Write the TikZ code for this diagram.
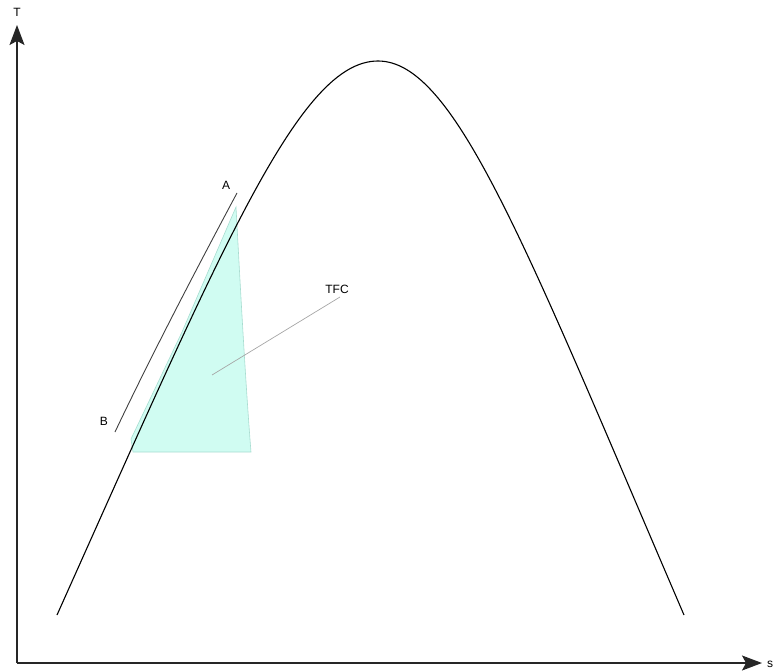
\documentclass[tikz,border=0pt]{standalone}
\usepackage{fontspec}
\setmainfont{Liberation Sans}
\usetikzlibrary{arrows.meta}
\definecolor{fillteal}{HTML}{D0FCF2}
\definecolor{edgeteal}{HTML}{A8DCD0}
\tikzset{
  axis/.style={line width=1.4pt, draw=black!85, -{Stealth[length=20pt,width=15pt,inset=4pt]}},
  curveline/.style={line width=1.1pt, black},
  lbl/.style={font=\fontsize{12}{14}\selectfont, inner sep=0pt},
  leader/.style={line width=0.7pt, gray!70},
  tangent/.style={line width=0.9pt, black!75}
}
\begin{document}
\begin{tikzpicture}[x=1pt,y=-1pt]
\useasboundingbox (0,0) rectangle (773,671);
% axes
\coordinate (O) at (17,663);
\coordinate (Ytop) at (17,25);
\coordinate (Xend) at (762,663);
\draw[axis] (O) -- (Ytop);
\draw[axis] (O) -- (Xend);
\node[lbl] (Tl) at (17,12) {T};
\node[lbl] (sl) at (770,664) {s};
% region
\coordinate (R1) at (236,207);
\coordinate (R2) at (251,452);
\coordinate (R3) at (133,452);
\coordinate (R4) at (131,439);
\path[fill=fillteal, draw=edgeteal, line width=0.6pt]
  (R1) .. controls (241,300) and (246,390) .. (R2) -- (R3) -- (R4) -- (182,332) -- cycle;
% dome curve
\coordinate (C0) at (57,615);
\coordinate (Cp) at (378,61);
\coordinate (C1) at (684,615);
\draw[curveline] (C0) .. controls (225,240) and (300,61) .. (Cp)
  .. controls (455,61) and (525,245) .. (C1);
% tangent line A-B
\coordinate (Ta) at (237,193);
\coordinate (Tb) at (115,432);
\draw[tangent] (Ta) .. controls (198,266) and (153,352) .. (Tb);
\node[lbl] (A) at (226,185) {A};
\node[lbl] (B) at (104,421) {B};
% TFC leader
\coordinate (Lin) at (212,375);
\coordinate (Lout) at (340,297);
\draw[leader] (Lin) -- (Lout);
\node[lbl] (TFC) at (337,289) {TFC};
\end{tikzpicture}
\end{document}
